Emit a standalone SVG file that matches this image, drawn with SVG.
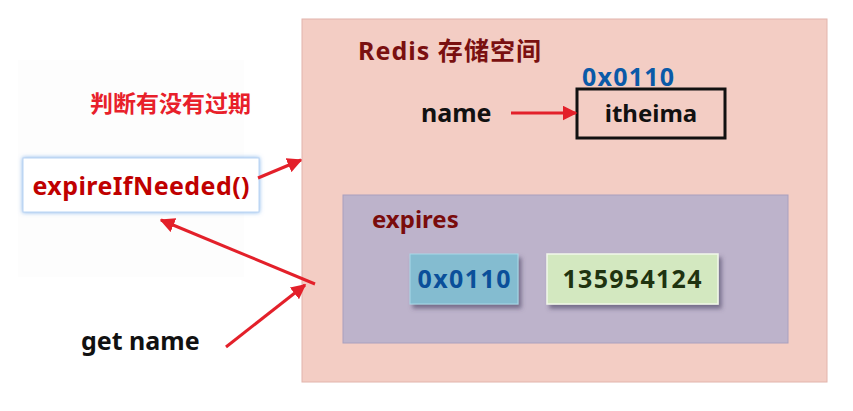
<svg xmlns="http://www.w3.org/2000/svg" width="853" height="411" viewBox="0 0 853 411">
<defs>
<style>
text{font-family:"Noto Sans","Noto Sans CJK SC",sans-serif;font-weight:bold}
.arrow{stroke:#e3202a;stroke-width:3;fill:none;marker-end:url(#ah)}
</style>
<marker id="ah" viewBox="0 0 10 10" refX="9" refY="5" markerWidth="5" markerHeight="5" orient="auto" markerUnits="strokeWidth">
<path d="M0,0 L10,5 L0,10 z" fill="#e3202a"/>
</marker>
<filter id="sh" x="-20%" y="-20%" width="150%" height="160%">
<feDropShadow dx="3" dy="4" stdDeviation="2" flood-color="#4a4060" flood-opacity="0.6"/>
</filter>
<filter id="glow" x="-10%" y="-30%" width="120%" height="160%">
<feDropShadow dx="0" dy="0" stdDeviation="2" flood-color="#6fa8e8" flood-opacity="0.9"/>
</filter>
</defs>
<rect width="853" height="411" fill="#ffffff"/>
<g id="left-panel">
<rect x="18" y="60" width="226" height="217" fill="#fdfdfd"/>
<text x="90" y="112" font-size="23" fill="#e8202a">判断有没有过期</text>
</g>
<g id="redis-space">
<rect x="302" y="19" width="525" height="363" fill="#f3cdc4" stroke="#e2b4ac" stroke-width="1"/>
<text x="358" y="60" font-size="25" fill="#7a1010" textLength="183">Redis 存储空间</text>
</g>
<g id="name-key">
<text x="421" y="122" font-size="25" fill="#111">name</text>
</g>
<g id="itheima-value">
<text x="582" y="86" font-size="25" fill="#0a5aa8" textLength="92">0x0110</text>
<rect x="577" y="89" width="148" height="49" fill="none" stroke="#111" stroke-width="3"/>
<text x="651" y="122" font-size="24" fill="#111" text-anchor="middle">itheima</text>
</g>
<g id="expires">
<rect x="343" y="195" width="445" height="148" fill="#bdb3cb" stroke="#a9a0be" stroke-width="1"/>
<text x="372" y="228" font-size="24" fill="#7a0c0c">expires</text>
</g>
<g id="expires-key">
<rect x="410" y="254" width="108" height="50" fill="#84bcd0" stroke="#a8d8e8" stroke-width="1" filter="url(#sh)"/>
<text x="464" y="288" font-size="25" fill="#0a4f9a" text-anchor="middle" textLength="93">0x0110</text>
</g>
<g id="expires-value">
<rect x="547" y="254" width="171" height="50" fill="#d3e8c0" stroke="#f2f8ea" stroke-width="1.5" filter="url(#sh)"/>
<text x="632" y="288" font-size="25" fill="#1f3310" text-anchor="middle" textLength="139">135954124</text>
</g>
<g id="expireIfNeeded">
<rect x="23" y="158" width="236" height="54" fill="#ffffff" stroke="#b8d4f4" stroke-width="1" filter="url(#glow)"/>
<text x="141" y="195" font-size="25" fill="#c00000" text-anchor="middle" textLength="217">expireIfNeeded()</text>
</g>
<g id="get-name">
<text x="81" y="350" font-size="25" fill="#111">get name</text>
</g>
<g id="connectors">
<line class="arrow" x1="511" y1="113" x2="576" y2="113"/>
<line class="arrow" x1="258" y1="178" x2="301" y2="160"/>
<line class="arrow" x1="315" y1="284" x2="161" y2="220"/>
<line class="arrow" x1="226" y1="347" x2="305" y2="285"/>
</g>
</svg>
